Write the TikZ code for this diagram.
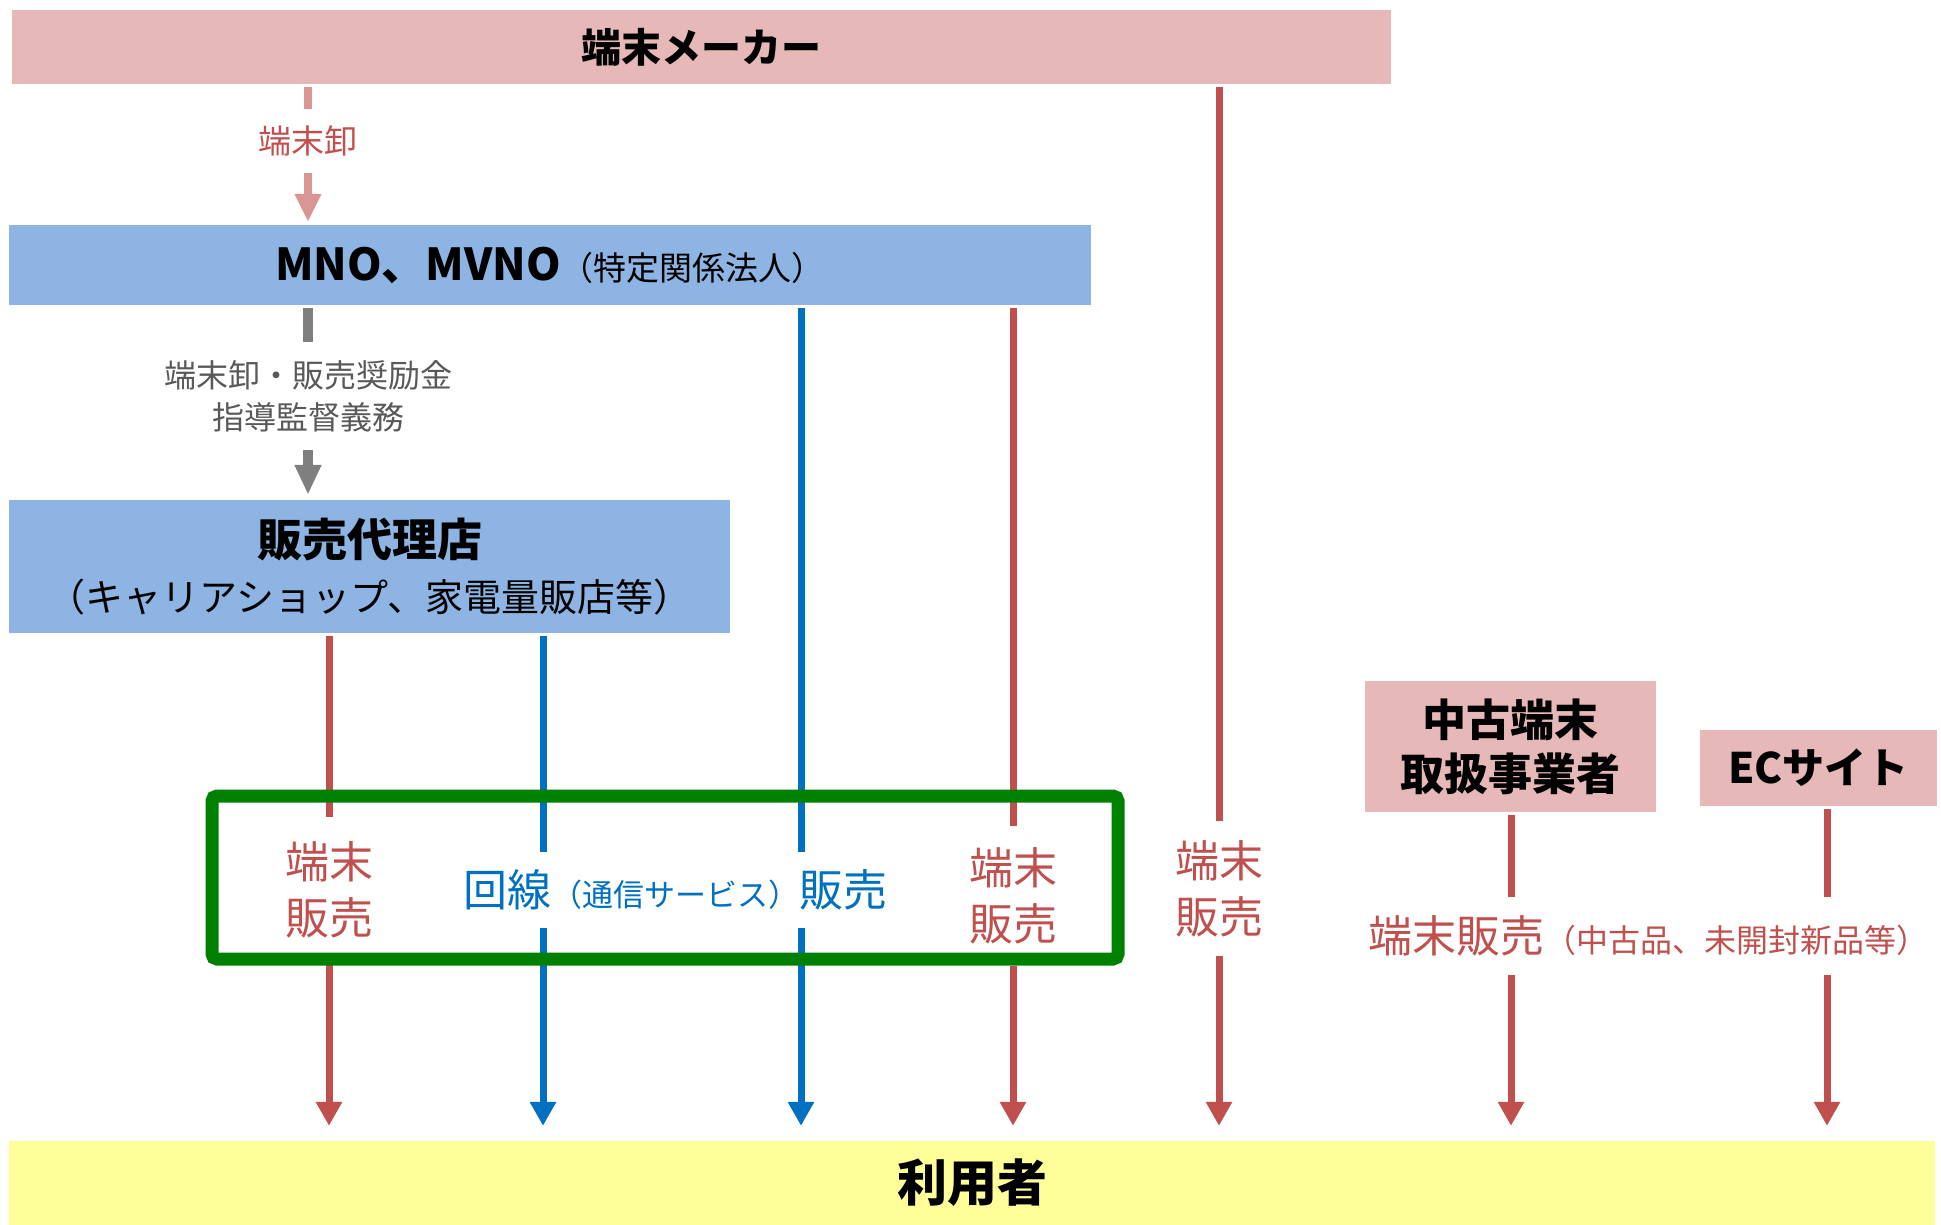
\documentclass[tikz,border=0pt]{standalone}
\usepackage{fontspec}
\setmainfont{Noto Sans CJK JP}
\usepackage{xcolor}
\usepackage{tikz}
\usetikzlibrary{arrows.meta, positioning, calc}
\definecolor{makerpink}{RGB}{230, 184, 183}
\definecolor{carrierblue}{RGB}{141, 180, 226}
\definecolor{useryellow}{RGB}{255, 255, 153}
\definecolor{salesred}{RGB}{192, 80, 77}
\definecolor{wholepink}{RGB}{218, 150, 148}
\definecolor{lineblue}{RGB}{0, 112, 192}
\definecolor{guidegray}{RGB}{127, 127, 127}
\definecolor{guidetext}{RGB}{89, 89, 89}
\definecolor{framegreen}{RGB}{0, 128, 0}

\tikzset{
    pinkbox/.style={fill=makerpink, inner sep=0pt, align=center},
    bluebox/.style={fill=carrierblue, inner sep=0pt, align=center},
    userbox/.style={fill=useryellow, inner sep=0pt, align=center},
    flowlabel/.style={inner sep=0pt, align=center},
    redflow/.style={draw=salesred, line width=7pt, shorten <=3pt},
    blueflow/.style={draw=lineblue, line width=7pt, shorten <=3pt},
    redarrow/.style={redflow, -{Triangle[length=24pt, width=25pt]}, shorten >=15pt, shorten <=0pt},
    bluearrow/.style={blueflow, -{Triangle[length=24pt, width=25pt]}, shorten >=15pt, shorten <=0pt},
    bigfont/.style={font=\fontsize{44}{56}\selectfont}
}

\begin{document}
\begin{tikzpicture}[x=1pt, y=-1pt]
    \useasboundingbox (0,0) rectangle (1941,1225);

    \node[pinkbox, minimum width=1379pt, minimum height=74pt, font=\fontsize{40}{48}\selectfont\bfseries] (maker) at (701.5,47) {端末メーカー};
    \node[bluebox, minimum width=1082pt, minimum height=80pt] (mno) at (550,265)
        {{\fontsize{44}{52}\selectfont\bfseries MNO、MVNO}{\fontsize{33}{40}\selectfont （特定関係法人）}};
    \node[bluebox, minimum width=721pt, minimum height=133pt, font=\fontsize{38}{55}\selectfont] (dealer) at (369.5,566.5)
        {{\fontsize{45}{55}\selectfont\bfseries 販売代理店}\\（キャリアショップ、家電量販店等）};
    \node[pinkbox, minimum width=291pt, minimum height=131pt, font=\fontsize{44}{54}\selectfont\bfseries] (used) at (1510.5,746.5) {中古端末\\取扱事業者};
    \node[pinkbox, minimum width=237pt, minimum height=76pt, font=\fontsize{42}{50}\selectfont\bfseries] (ec) at (1818.5,768) {ECサイト};
    \node[userbox, minimum width=1926pt, minimum height=84pt, font=\fontsize{50}{60}\selectfont\bfseries] (user) at (972,1183) {利用者};

    \coordinate (c1) at (329,0);
    \coordinate (c2) at (543,0);
    \coordinate (c3) at (801,0);
    \coordinate (c4) at (1013,0);
    \coordinate (c5) at (1219,0);
    \coordinate (c6) at (1511,0);
    \coordinate (c7) at (1827,0);

    \node[flowlabel, minimum height=64pt, text=salesred, font=\fontsize{33}{40}\selectfont] (whole) at (308,141) {端末卸};
    \node[flowlabel, minimum height=107pt, text=guidetext, font=\fontsize{32}{42}\selectfont] (guide) at (308,396) {端末卸・販売奨励金\\指導監督義務};
    \node[flowlabel, bigfont, minimum height=146pt, text=salesred] (sale1) at (329,890) {端末\\販売};
    \node[flowlabel, minimum height=76pt, text=lineblue] (line) at (675,890)
        {{\fontsize{44}{56}\selectfont 回線}{\fontsize{31}{36}\selectfont （通信サービス）}{\fontsize{44}{56}\selectfont 販売}};
    \node[flowlabel, bigfont, minimum height=140pt, text=salesred] (sale4) at (1013,896) {端末\\販売};
    \node[flowlabel, bigfont, minimum height=135pt, text=salesred] (sale5) at (1219,888.5) {端末\\販売};
    \node[flowlabel, minimum height=78pt, text=salesred, anchor=west] (sale6) at (1368,936)
        {{\fontsize{44}{56}\selectfont 端末販売}{\fontsize{32}{40}\selectfont （中古品、未開封新品等）}};

    \draw[draw=wholepink, line width=8pt, shorten <=3pt] (maker.south -| whole) -- (whole);
    \draw[draw=wholepink, line width=8pt, -{Triangle[length=28pt, width=25pt]}, shorten >=3pt] (whole) -- (mno.north -| whole);
    \draw[draw=guidegray, line width=10pt, shorten <=3pt] (mno.south -| guide) -- (guide);
    \draw[draw=guidegray, line width=10pt, -{Triangle[length=30pt, width=25pt]}, shorten >=5pt] (guide) -- (dealer.north -| guide);

    \draw[redflow] (dealer.south -| c1) -- (sale1);
    \draw[redarrow] (sale1) -- (user.north -| c1);
    \draw[blueflow] (dealer.south -| c2) -- (line.north -| c2);
    \draw[bluearrow] (line.south -| c2) -- (user.north -| c2);
    \draw[blueflow] (mno.south -| c3) -- (line.north -| c3);
    \draw[bluearrow] (line.south -| c3) -- (user.north -| c3);
    \draw[redflow] (mno.south -| c4) -- (sale4);
    \draw[redarrow] (sale4) -- (user.north -| c4);
    \draw[redflow] (maker.south -| c5) -- (sale5);
    \draw[redarrow] (sale5) -- (user.north -| c5);
    \draw[redflow] (used.south -| c6) -- (sale6.north -| c6);
    \draw[redarrow] (sale6.south -| c6) -- (user.north -| c6);
    \draw[redflow] (ec.south -| c7) -- (sale6.north -| c7);
    \draw[redarrow] (sale6.south -| c7) -- (user.north -| c7);

    \draw[framegreen, line width=13pt, rounded corners=5pt] (212,796) rectangle (1118,959);
\end{tikzpicture}
\end{document}
